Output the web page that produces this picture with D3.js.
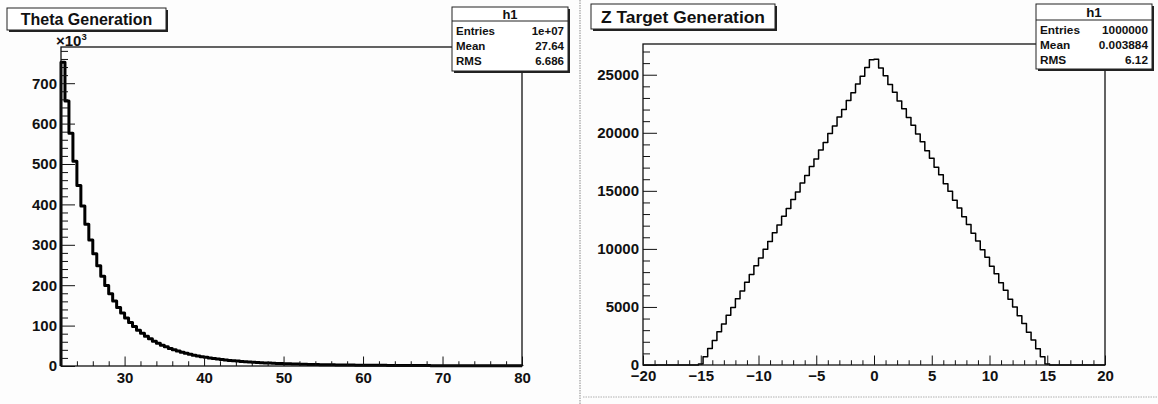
<!DOCTYPE html>
<html>
<head>
<meta charset="utf-8">
<script src="https://cdn.jsdelivr.net/npm/d3@7"></script>
<style>
  body { margin: 0; background: #fdfdfd; }
  svg text { font-family: "Liberation Sans", Arial, Helvetica, sans-serif; font-weight: bold; fill: #111; }
</style>
</head>
<body>
<svg id="chart" width="1158" height="404"></svg>
<script>
// ---------- Theta histogram (counts in units of 10^3, 0.5-degree bins from 22 to 80) ----------
const thetaTitle = "Theta Generation";
const thetaRange = [22, 80];
const thetaCounts = [
  752, 656, 576, 507, 447, 396, 351, 312, 278, 248,
  222, 199, 179, 161, 145, 131, 119, 107.5, 97.7, 88.8,
  80.8, 73.7, 67.3, 61.5, 56.3, 51.6, 47.4, 43.6, 40.1, 36.9,
  34.0, 31.4, 29.0, 26.9, 24.9, 23.0, 21.4, 19.9, 18.5, 17.2,
  16.0, 14.9, 13.9, 13.0, 12.1, 11.3, 10.6, 9.9, 9.3, 8.7,
  8.2, 7.7, 7.2, 6.8, 6.4, 6.0, 5.6, 5.3, 5.0, 4.7,
  4.5, 4.2, 4.0, 3.8, 3.6, 3.4, 3.2, 3.0, 2.9, 2.7,
  2.6, 2.5, 2.3, 2.2, 2.1, 2.0,
  1.9, 1.8, 1.8, 1.7, 1.6, 1.6, 1.5, 1.4, 1.4, 1.3,
  1.3, 1.2, 1.2, 1.1, 1.1, 1.0, 1.0, 0.9, 0.9, 0.9,
  0.8, 0.8, 0.8, 0.7, 0.7, 0.7, 0.6, 0.6, 0.6, 0.6,
  0.5, 0.5, 0.5, 0.5, 0.5, 0.4, 0.4, 0.4, 0.4, 0.4
];
const thetaXTicks = [30, 40, 50, 60, 70, 80];
const thetaYTicks = [0, 100, 200, 300, 400, 500, 600, 700];
const thetaStats = [["Entries", "1e+07"], ["Mean", "27.64"], ["RMS", "6.686"]];

// ---------- Z target histogram (counts, 0.4 bins from -20 to 20) ----------
const zTitle = "Z Target Generation";
const zRange = [-20, 20];
const zCounts = [
  0, 0, 0, 0, 0, 0, 0, 0, 0, 0, 0, 0,
  90, 705, 1430, 2120, 2860, 3540, 4280, 4960, 5710, 6380,
  7130, 7800, 8550, 9220, 9970, 10640, 11400, 12060, 12820, 13480,
  14250, 14900, 15670, 16320, 17090, 17740, 18510, 19170, 19940, 20590,
  21360, 22010, 22780, 23440, 24200, 24860, 25620, 26280,
  26330, 25580, 24910, 24150, 23490, 22730, 22070, 21310, 20650, 19890,
  19230, 18460, 17800, 17040, 16380, 15610, 14960, 14190, 13530, 12770,
  12110, 11350, 10690, 9930, 9270, 8510, 7850, 7090, 6430, 5670,
  5000, 4250, 3580, 2830, 2150, 1400, 720, 85,
  0, 0, 0, 0, 0, 0, 0, 0, 0, 0, 0, 0
];
const zXTicks = [-20, -15, -10, -5, 0, 5, 10, 15, 20];
const zYTicks = [0, 5000, 10000, 15000, 20000, 25000];
const zStats = [["Entries", "1000000"], ["Mean", "0.003884"], ["RMS", "6.12"]];

const svg = d3.select("#chart");
const W = 1158, H = 404;

svg.append("rect").attr("width", W).attr("height", H).attr("fill", "#fdfdfd");

// pad separators
svg.append("line").attr("x1", 580).attr("x2", 580).attr("y1", 0).attr("y2", H)
  .attr("stroke", "#8a8a8a").attr("stroke-width", 1).attr("stroke-dasharray", "1.5,1");
svg.append("line").attr("x1", 583).attr("x2", W).attr("y1", 397).attr("y2", 397)
  .attr("stroke", "#b0b0b0").attr("stroke-width", 1).attr("stroke-dasharray", "1.5,1");

// step outline of a fixed-width histogram
function histPath(x, y, range, counts) {
  const n = counts.length, w = (range[1] - range[0]) / n;
  const pts = [[range[0], 0]];
  counts.forEach((c, i) => {
    const a = range[0] + i * w;
    pts.push([a, c], [a + w, c]);
  });
  pts.push([range[1], 0]);
  return d3.line().x(d => x(d[0])).y(d => y(d[1]))(pts);
}

function styleAxis(g, size) {
  g.attr("font-size", size)
   .attr("font-family", "'Liberation Sans', Arial, sans-serif")
   .attr("font-weight", "bold");
  g.select(".domain").remove();
  g.selectAll("line").attr("stroke", "#111").attr("stroke-width", 1);
}

function titleBox(x0, y0, w, h, label, size) {
  const g = svg.append("g");
  g.append("rect").attr("x", x0 + 2).attr("y", y0 + 2).attr("width", w).attr("height", h).attr("fill", "#222");
  g.append("rect").attr("x", x0).attr("y", y0).attr("width", w).attr("height", h)
    .attr("fill", "#fff").attr("stroke", "#222").attr("stroke-width", 1);
  g.append("text").attr("x", x0 + w / 2).attr("y", y0 + h / 2).attr("dy", "0.36em")
    .attr("text-anchor", "middle").attr("font-size", size).text(label);
}

// statistics pave: header row "h1", then one row per entry
function statBox(x0, y0, w, h, head, rows, size) {
  const g = svg.append("g");
  g.append("rect").attr("x", x0 + 2).attr("y", y0 + 2).attr("width", w).attr("height", h).attr("fill", "#222");
  g.append("rect").attr("x", x0).attr("y", y0).attr("width", w).attr("height", h)
    .attr("fill", "#fff").attr("stroke", "#222").attr("stroke-width", 1);
  g.append("line").attr("x1", x0).attr("x2", x0 + w).attr("y1", y0 + head).attr("y2", y0 + head)
    .attr("stroke", "#222").attr("stroke-width", 1);
  g.append("text").attr("x", x0 + w / 2).attr("y", y0 + head / 2 + 0.5).attr("dy", "0.36em")
    .attr("text-anchor", "middle").attr("font-size", size + 1.5).text("h1");
  const pitch = (h - head - 4) / rows.length;
  rows.forEach((r, i) => {
    const cy = y0 + head + 2 + pitch * (i + 0.5);
    g.append("text").attr("x", x0 + 4).attr("y", cy).attr("dy", "0.36em")
      .attr("font-size", size).text(r[0]);
    g.append("text").attr("x", x0 + w - 4).attr("y", cy).attr("dy", "0.36em")
      .attr("text-anchor", "end").attr("font-size", size).text(r[1]);
  });
}

function panel(cfg) {
  const g = svg.append("g");
  const x = d3.scaleLinear().domain(cfg.range).range([cfg.left, cfg.right]);
  const y = d3.scaleLinear().domain([0, d3.max(cfg.counts) * 1.05]).range([cfg.bottom, cfg.top]);

  g.append("path")
    .attr("d", histPath(x, y, cfg.range, cfg.counts))
    .attr("fill", "none").attr("stroke", "#000")
    .attr("stroke-width", cfg.lineWidth).attr("stroke-linejoin", "round");

  const xMinor = d3.range(cfg.range[0], cfg.range[1] + 1e-9, cfg.xMinorStep)
    .filter(v => !cfg.xTicks.includes(v));
  g.append("g").attr("transform", `translate(0,${cfg.bottom})`)
    .call(d3.axisBottom(x).tickValues(xMinor).tickSize(-cfg.xTick / 2).tickFormat(""))
    .call(a => styleAxis(a, cfg.fontSize));
  g.append("g").attr("transform", `translate(0,${cfg.bottom})`)
    .call(d3.axisBottom(x).tickValues(cfg.xTicks).tickSize(-cfg.xTick).tickPadding(cfg.xPad).tickFormat(d3.format("d")))
    .call(a => styleAxis(a, cfg.fontSize));

  const yMinor = d3.range(0, y.domain()[1], cfg.yMinorStep).filter(v => !cfg.yTicks.includes(v));
  g.append("g").attr("transform", `translate(${cfg.left},0)`)
    .call(d3.axisLeft(y).tickValues(yMinor).tickSize(-cfg.yTick / 2).tickFormat(""))
    .call(a => styleAxis(a, cfg.fontSize));
  g.append("g").attr("transform", `translate(${cfg.left},0)`)
    .call(d3.axisLeft(y).tickValues(cfg.yTicks).tickSize(-cfg.yTick).tickPadding(4).tickFormat(d3.format("d")))
    .call(a => styleAxis(a, cfg.fontSize));

  g.append("rect").attr("x", cfg.left).attr("y", cfg.top)
    .attr("width", cfg.right - cfg.left).attr("height", cfg.bottom - cfg.top)
    .attr("fill", "none").attr("stroke", "#111").attr("stroke-width", 1.3);
  return g;
}

// left pad: theta
panel({
  range: thetaRange, counts: thetaCounts, xTicks: thetaXTicks, yTicks: thetaYTicks,
  left: 61, right: 522, top: 47, bottom: 366,
  xMinorStep: 2, yMinorStep: 20, xTick: 9.5, yTick: 14, xPad: 6,
  fontSize: 15, lineWidth: 3
});
const expo = svg.append("text").attr("x", 56).attr("y", 46).attr("font-size", 15);
expo.append("tspan").text("\u00d710");
expo.append("tspan").attr("dy", -6).attr("font-size", 9.5).text("3");

titleBox(7, 8, 159, 22, thetaTitle, 16);
statBox(452, 7, 116, 64, 14, thetaStats, 11.5);

// right pad: z target
panel({
  range: zRange, counts: zCounts, xTicks: zXTicks, yTicks: zYTicks,
  left: 643, right: 1105, top: 44, bottom: 365,
  xMinorStep: 1, yMinorStep: 1000, xTick: 9.5, yTick: 14, xPad: 5,
  fontSize: 15, lineWidth: 1.5
});

titleBox(591, 4, 184, 25, zTitle, 17.4);
statBox(1036, 4, 116, 65, 16, zStats, 11.8);
</script>
</body>
</html>
